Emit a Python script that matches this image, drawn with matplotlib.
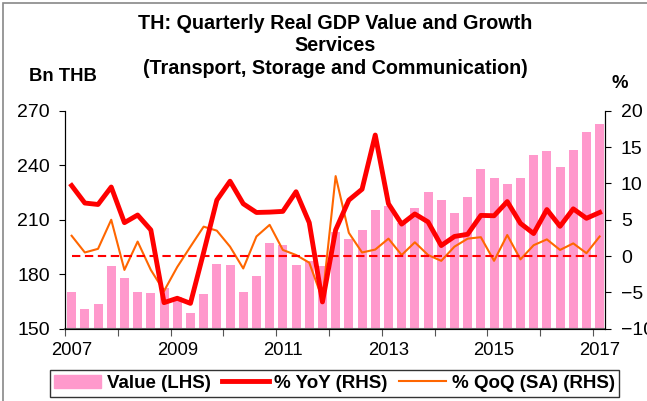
import matplotlib.pyplot as plt
import numpy as np
from matplotlib.patches import Rectangle
from matplotlib.lines import Line2D
from matplotlib.patches import Patch

plt.rcParams['font.family'] = ['Liberation Sans', 'DejaVu Sans']

# quarterly data 2007Q1 - 2017Q1
value = [170.2, 160.8, 163.8, 184.7, 178.1, 170.2, 169.8, 172.6,
         167.6, 158.8, 169.1, 185.6, 185.1, 170.2, 179.2, 197.0,
         196.1, 185.2, 187.1, 184.7, 203.2, 199.4, 204.3, 215.2,
         217.7, 208.0, 216.2, 225.4, 220.8, 213.8, 222.6, 237.9,
         232.8, 229.6, 232.9, 245.6, 247.8, 239.2, 248.2, 258.3,
         262.7]
yoy = [9.7, 7.3, 7.1, 9.5, 4.6, 5.65, 3.6, -6.4,
       -5.8, -6.5, 0.5, 7.7, 10.3, 7.2, 6.0, 6.05,
       6.15, 8.85, 4.6, -6.3, 3.6, 7.7, 9.2, 16.65,
       7.2, 4.4, 5.8, 4.7, 1.45, 2.7, 3.0, 5.6,
       5.55, 7.5, 4.5, 3.1, 6.4, 4.1, 6.5, 5.2,
       6.0]
qoq = [2.8, 0.5, 1.0, 5.0, -1.9, 2.0, -1.9, -4.8,
       -1.5, 1.3, 4.05, 3.5, 1.3, -1.7, 2.7, 4.3,
       0.85, 0.15, -0.9, -5.9, 11.0, 3.2, 0.5, 0.9,
       2.4, 0.15, 1.9, 0.15, -0.65, 1.3, 2.4, 2.6,
       -0.65, 2.9, -0.45, 1.5, 2.3, 0.85, 1.75, 0.4,
       2.7]
years = ['2007', '2009', '2011', '2013', '2015', '2017']

x = np.arange(len(value))

fig = plt.figure(figsize=(6.47, 4.01), dpi=100)
ax = fig.add_axes([0.1005, 0.180, 0.8345, 0.544])
ax2 = ax.twinx()

ax.bar(x, value, width=0.68, color='#FF99CC', zorder=1)
ax.set_ylim(150, 270)
ax.set_yticks([150, 180, 210, 240, 270])
ax2.plot(x, yoy, color='#FF0000', lw=3.5, zorder=3)
ax2.plot(x, qoq, color='#FF6600', lw=1.5, zorder=2)
ax2.plot([x[0], x[-1]], [0, 0], color='#FF0000', lw=1.5, ls=(0, (4, 2.2)), zorder=2)
ax2.set_ylim(-10, 20)
ax2.set_yticks([-10, -5, 0, 5, 10, 15, 20])
ax.set_xlim(-0.5, len(value) - 0.6)

ax.set_xticks(np.arange(-0.5, len(value), 4))
ax.set_xticklabels([])
ax.set_xticks(np.arange(0, len(value), 8), minor=True)
ax.set_xticklabels(years, minor=True, fontsize=13.3)
ax.tick_params(axis='x', which='minor', length=0, pad=9.5)
ax.tick_params(axis='x', which='major', length=5, color='#555555')

for a in (ax, ax2):
    a.spines['top'].set_visible(False)
ax.spines['bottom'].set_color('#666666')
ax.spines['bottom'].set_linewidth(1.5)
ax.tick_params(axis='y', length=4.5, pad=6.5, labelsize=14)
ax2.tick_params(axis='y', length=4.5, pad=7, labelsize=14)

fig.text(0.518, 0.942, 'TH: Quarterly Real GDP Value and Growth', ha='center', va='center',
         fontsize=14.2, fontweight='bold')
fig.text(0.518, 0.886, 'Services', ha='center', va='center', fontsize=14.2, fontweight='bold')
fig.text(0.518, 0.830, '(Transport, Storage and Communication)', ha='center', va='center',
         fontsize=14.2, fontweight='bold')
fig.text(0.0966, 0.809, 'Bn THB', ha='center', va='center', fontsize=13.3, fontweight='bold')
fig.text(0.958, 0.792, '%', ha='center', va='center', fontsize=13.3, fontweight='bold')

handles = [Patch(color='#FF99CC'),
           Line2D([], [], color='#FF0000', lw=3.5),
           Line2D([], [], color='#FF6600', lw=1.5)]
labels = ['Value (LHS)', '% YoY (RHS)', '% QoQ (SA) (RHS)']
leg = fig.legend(handles, labels, loc='center', bbox_to_anchor=(0.517, 0.044), ncol=3,
                 frameon=True, fancybox=False, edgecolor='black', handlelength=2.5,
                 handletextpad=0.3, columnspacing=0.6, borderpad=0.25,
                 prop={'weight': 'bold', 'size': 13.5})
leg.get_frame().set_linewidth(1.0)

fig.patches.append(Rectangle((0.005, -0.1), 1.2, 1.092, transform=fig.transFigure,
                             fill=False, edgecolor='#888888', lw=1.2))

fig.savefig('out.png', dpi=100)
